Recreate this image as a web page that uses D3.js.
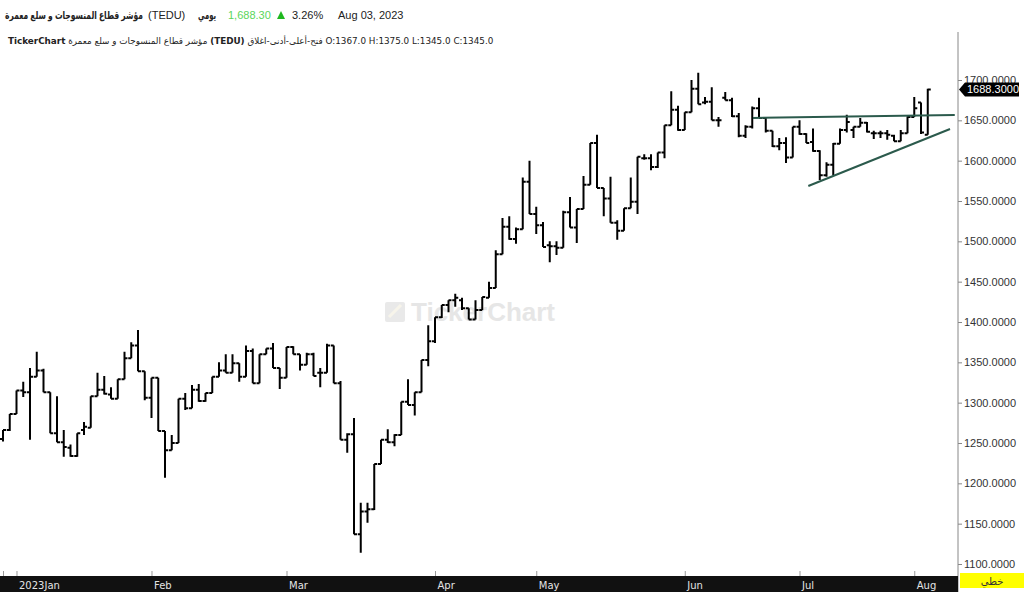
<!DOCTYPE html>
<html>
<head>
<meta charset="utf-8">
<title>TEDU</title>
<style>
body { margin: 0; background: #fff; }
svg text { font-family: "Liberation Sans", "DejaVu Sans", Arial, sans-serif; }
.yaxis line { stroke: #888; }
.yaxis text { fill: #333; font-size: 11px; }
.xaxis line { stroke: #999; }
.xaxis text { fill: #e4e4e4; font-size: 10px; font-family: "DejaVu Sans", sans-serif; }
</style>
</head>
<body>
<svg width="1024" height="592"></svg>
<script src="https://cdn.jsdelivr.net/npm/d3@7"></script>
<script>
// daily OHLC, one entry per trading session
var opens = [1255,1266,1286,1315,1313,1332,1340,1313,1262,1251,
1244,1234,1266,1269,1308,1316,1310,1305,1329,1355,
1371,1339,1306,1331,1265,1241,1250,1305,1293,1316,
1302,1312,1332,1340,1337,1349,1332,1364,1324,1360,
1367,1343,1331,1369,1360,1347,1360,1337,1337,1371,
1324,1254,1261,1137,1165,1168,1224,1254,1251,1260,
1301,1297,1313,1353,1376,1406,1421,1427,1427,1417,
1403,1415,1430,1442,1484,1518,1503,1515,1574,1534,
1520,1495,1494,1492,1536,1517,1540,1570,1622,1566,
1553,1523,1513,1541,1549,1603,1603,1592,1610,1644,
1663,1638,1660,1689,1672,1673,1650,1678,1675,1655,
1631,1642,1665,1653,1637,1618,1622,1604,1642,1633,
1623,1612,1582,1595,1621,1638,1638,1642,1647,1634,
1634,1634,1631,1624,1634,1654,1672,1632];

var highs = [1266,1286,1315,1326,1343,1363,1342,1313,1308,1266,
1248,1262,1276,1308,1337,1333,1319,1329,1363,1375,
1390,1339,1331,1331,1265,1260,1305,1312,1322,1323,
1312,1332,1350,1360,1360,1349,1371,1367,1360,1367,
1374,1343,1369,1370,1360,1362,1362,1343,1373,1371,
1327,1262,1281,1176,1176,1224,1254,1267,1261,1301,
1329,1313,1353,1396,1406,1421,1427,1435,1430,1417,
1427,1431,1450,1489,1529,1531,1517,1579,1600,1543,
1524,1500,1500,1538,1555,1540,1581,1622,1632,1566,
1580,1526,1541,1579,1605,1608,1608,1610,1644,1686,
1668,1660,1700,1709,1679,1691,1654,1685,1678,1659,
1644,1667,1678,1653,1637,1628,1629,1642,1650,1634,
1640,1613,1598,1622,1640,1657,1642,1653,1648,1637,
1637,1638,1632,1638,1655,1679,1672,1689];

var lows = [1252,1265,1286,1307,1254,1332,1313,1262,1251,1233,
1233,1233,1260,1269,1308,1310,1305,1305,1329,1355,
1339,1303,1281,1265,1207,1241,1250,1291,1293,1301,
1301,1312,1332,1337,1337,1326,1332,1324,1324,1360,
1343,1317,1331,1360,1340,1347,1333,1319,1337,1324,
1254,1238,1137,1114,1151,1167,1224,1250,1246,1260,
1297,1284,1313,1345,1374,1405,1412,1419,1415,1403,
1403,1415,1430,1442,1484,1502,1497,1515,1534,1509,
1493,1474,1483,1492,1517,1498,1540,1570,1566,1531,
1523,1502,1513,1541,1534,1601,1588,1591,1603,1644,
1637,1638,1660,1670,1670,1650,1642,1675,1654,1629,
1628,1640,1653,1635,1617,1613,1597,1604,1632,1622,
1611,1576,1580,1582,1621,1635,1628,1642,1635,1627,
1628,1626,1624,1624,1634,1654,1633,1632];

var closes = [1266,1286,1315,1313,1332,1340,1313,1262,1251,1245,
1234,1262,1270,1308,1316,1311,1305,1329,1355,1371,
1339,1306,1331,1265,1241,1250,1305,1293,1316,1302,
1312,1332,1340,1337,1349,1332,1364,1324,1360,1367,
1343,1331,1369,1360,1347,1360,1333,1337,1371,1324,
1254,1261,1137,1165,1168,1224,1254,1251,1260,1301,
1297,1313,1353,1376,1406,1421,1427,1430,1417,1403,
1415,1431,1442,1484,1518,1503,1515,1574,1534,1520,
1493,1494,1492,1536,1517,1540,1570,1622,1566,1553,
1523,1513,1541,1549,1605,1603,1592,1610,1644,1663,
1638,1660,1689,1670,1673,1650,1650,1675,1655,1631,
1642,1665,1653,1637,1618,1622,1604,1642,1633,1622,
1612,1582,1595,1621,1638,1648,1642,1647,1636,1634,
1634,1632,1624,1634,1654,1665,1635,1688.3];

// month ticks: bar index where each month starts
var monthIdx = [0, 2, 22, 42, 64, 79, 101, 118, 135];
var monthLabels = ["", "2023Jan", "Feb", "Mar", "Apr", "May", "Jun", "Jul", "Aug"];

var priceTicks = d3.range(1100, 1701, 50);

// drawn trend lines: [bar index, price]
var upperTrend = [[111.1, 1653], [141.0, 1656.6]];
var lowerTrend = [[119.3, 1568.6], [140.3, 1639.3]];

var svg = d3.select("svg"),
    width = +svg.attr("width"),
    height = +svg.attr("height");

var plotRight = 958, plotTop = 32, bandTop = 576;

var x = d3.scaleLinear()
    .domain([-0.444, 141.48])
    .range([0, plotRight]);

var y = d3.scaleLinear()
    .domain([1100, 1700])
    .range([564, 80]);

svg.append("clipPath").attr("id", "plot")
  .append("rect")
    .attr("x", 0).attr("y", plotTop)
    .attr("width", plotRight).attr("height", bandTop - plotTop);

// watermark
var wm = svg.append("g");
wm.append("rect")
    .attr("x", 385).attr("y", 302).attr("width", 20).attr("height", 20)
    .attr("rx", 2).attr("fill", "#e9e9e9");
wm.append("path")
    .attr("d", "M389,317L401,305")
    .attr("stroke", "#f7f4ea").attr("stroke-width", 3);
wm.append("text")
    .attr("x", 411).attr("y", 321)
    .attr("font-size", "26px").attr("font-weight", "bold")
    .attr("fill", "#e6e6e6")
    .text("TickerChart");

// OHLC bars
var n = closes.length;
svg.append("g")
    .attr("clip-path", "url(#plot)")
  .selectAll("path")
  .data(d3.range(n))
  .join("path")
    .attr("fill", "none")
    .attr("stroke", "#000")
    .attr("stroke-width", 2)
    .attr("d", function(i) {
      var cx = x(i);
      return "M" + cx + "," + y(highs[i]) + "V" + y(lows[i]) +
             "M" + (cx - 3) + "," + y(opens[i]) + "H" + cx +
             "M" + cx + "," + y(closes[i]) + "H" + (cx + 3);
    });

// trend lines
var line = d3.line()
    .x(function(d) { return x(d[0]); })
    .y(function(d) { return y(d[1]); });

svg.append("g")
    .attr("clip-path", "url(#plot)")
  .selectAll("path")
  .data([upperTrend, lowerTrend])
  .join("path")
    .attr("d", line)
    .attr("fill", "none")
    .attr("stroke", "#2b5a4c")
    .attr("stroke-width", 2);

// price axis
svg.append("line")
    .attr("x1", plotRight).attr("x2", plotRight)
    .attr("y1", plotTop).attr("y2", height)
    .attr("stroke", "#888");

var yAxis = d3.axisRight(y)
    .tickValues(priceTicks)
    .tickSize(4)
    .tickPadding(2)
    .tickFormat(d3.format(".4f"));

svg.append("g")
    .attr("class", "yaxis")
    .attr("transform", "translate(" + plotRight + ",0)")
    .call(yAxis)
    .call(function(g) { g.select(".domain").remove(); });

// last price tag
var last = closes[n - 1], ly = y(last);
svg.append("path")
    .attr("d", "M959," + ly + "L965," + (ly - 7) + "H1019V" + (ly + 7) + "H965Z")
    .attr("fill", "#000");
svg.append("text")
    .attr("x", 967).attr("y", ly + 4)
    .attr("font-size", "11px").attr("fill", "#fff")
    .text(d3.format(".4f")(last));

// time axis band
svg.append("rect")
    .attr("x", 0).attr("y", bandTop)
    .attr("width", plotRight).attr("height", height - bandTop)
    .attr("fill", "#111");

var xAxis = d3.axisBottom(x)
    .tickValues(monthIdx)
    .tickSize(-5)
    .tickFormat(function(d, i) { return monthLabels[i]; });

svg.append("g")
    .attr("class", "xaxis")
    .attr("transform", "translate(0," + bandTop + ")")
    .call(xAxis)
    .call(function(g) {
      g.select(".domain").remove();
      g.selectAll("text")
        .attr("text-anchor", "start")
        .attr("x", 2).attr("y", 13).attr("dy", null);
    });

// chart type box
svg.append("rect")
    .attr("x", 960).attr("y", 573).attr("width", 64).attr("height", 15)
    .attr("fill", "#ffff00");
svg.append("text")
    .attr("x", 992).attr("y", 585)
    .attr("text-anchor", "middle")
    .attr("font-size", "10px").attr("fill", "#333")
    .text("خطي");

// squeeze a text horizontally into [x0, x0 + w]
function fitText(t, x0, y0, w) {
  var len = t.node().getComputedTextLength();
  t.attr("x", 0).attr("y", 0)
   .attr("transform", "translate(" + x0 + "," + y0 + ") scale(" + Math.min(1, w / len) + ",1)");
}

// header line 1
var h1 = svg.append("g").attr("font-size", "11px").attr("fill", "#222");
var nameT = h1.append("text")
    .attr("font-weight", "bold")
    .text("مؤشر قطاع المنسوجات و سلع معمرة");
fitText(nameT, 5, 19, 138);
h1.append("text").attr("x", 148).attr("y", 19).text("(TEDU)");
var dailyT = h1.append("text")
    .attr("font-weight", "bold")
    .text("يومي");
fitText(dailyT, 198, 19, 18);
h1.append("text").attr("x", 228).attr("y", 19)
    .attr("fill", "#5ad65a").text(d3.format(",.2f")(last));
h1.append("path").attr("d", "M277,19L285,19L281,11Z").attr("fill", "#1fb81f");
h1.append("text").attr("x", 292).attr("y", 19).text("3.26%");
h1.append("text").attr("x", 338).attr("y", 19).text("Aug 03, 2023");

// header line 2
var h2 = svg.append("text")
    .attr("x", 8).attr("y", 44)
    .attr("font-size", "8.8px")
    .attr("fill", "#222")
    .style("font-family", "'DejaVu Sans', sans-serif");
h2.append("tspan").attr("font-weight", "bold").text("TickerChart");
h2.append("tspan").text(" مؤشر قطاع المنسوجات و سلع معمرة ");
h2.append("tspan").attr("font-weight", "bold").text("(TEDU)");
h2.append("tspan").text(" فتح-أعلى-أدنى-اغلاق O:1367.0  H:1375.0  L:1345.0  C:1345.0");
</script>
</body>
</html>
